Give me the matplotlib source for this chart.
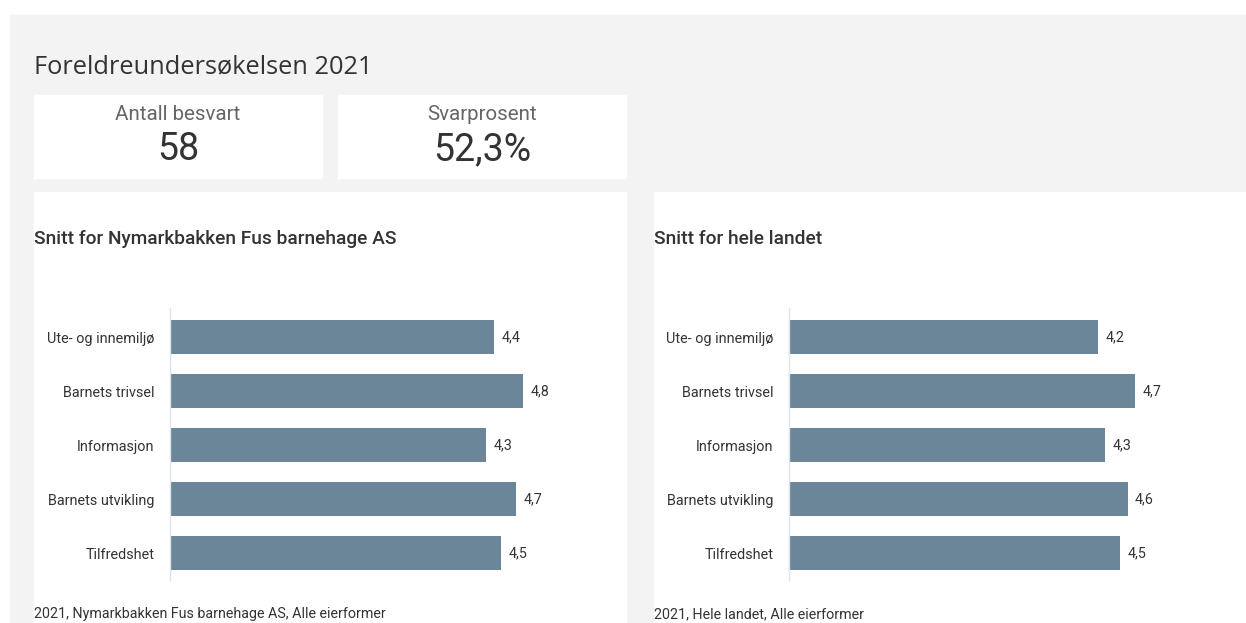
import matplotlib.pyplot as plt
from matplotlib.patches import Rectangle

plt.rcParams["font.family"] = ["Roboto", "DejaVu Sans"]

W, H = 1246, 623

categories = ["Ute- og innemiljø", "Barnets trivsel", "Informasjon",
              "Barnets utvikling", "Tilfredshet"]
local_values = [4.4, 4.8, 4.3, 4.7, 4.5]
national_values = [4.2, 4.7, 4.3, 4.6, 4.5]

kpi_labels = ["Antall besvart", "Svarprosent"]
kpi_values = ["58", "52,3%"]

bar_color = "#6b8599"
text_color = "#333333"


def fx(x):
    return x / W


def fy(y):
    return 1 - y / H


def box(fig, x0, y0, x1, y1, color):
    fig.patches.append(Rectangle((fx(x0), fy(y1)), fx(x1 - x0), (y1 - y0) / H,
                                 transform=fig.transFigure, color=color,
                                 zorder=-1))


fig = plt.figure(figsize=(W / 100, H / 100), dpi=100)
fig.patch.set_facecolor("white")

# background panel and cards
box(fig, 10, 15, 1246, 623, "#f3f3f3")
box(fig, 34, 95, 322, 178, "white")
box(fig, 338, 95, 626, 178, "white")
box(fig, 34, 192, 626, 623, "white")
box(fig, 654, 192, 1246, 623, "white")

fig.text(fx(34), fy(67), "Foreldreundersøkelsen 2021", fontsize=18.3,
         family=["Open Sans", "DejaVu Sans"], color=text_color, va="center")

for i, (lab, val) in enumerate(zip(kpi_labels, kpi_values)):
    cx = 178 + i * 304
    fig.text(fx(cx), fy(114), lab, fontsize=14.8, color="#666666",
             ha="center", va="center")
    fig.text(fx(cx), fy(150), val, fontsize=27, color=text_color,
             ha="center", va="center")

panels = [
    (170, "Snitt for Nymarkbakken Fus barnehage AS", local_values, 34,
     "2021, Nymarkbakken Fus barnehage AS, Alle eierformer"),
    (789, "Snitt for hele landet", national_values, 654,
     "2021, Hele landet, Alle eierformer"),
]

for ax_x, title, values, px, footer in panels:
    fig.text(fx(px), fy(239), title, fontsize=13.8, fontweight="medium",
             color=text_color, va="center")
    fig.text(fx(px), fy(614), footer, fontsize=10.3, color=text_color,
             va="center")

    ax = fig.add_axes([fx(ax_x), fy(580), 430 / W, 272 / H])
    ax.set_facecolor("none")
    ypos = range(len(categories))
    ax.barh(ypos, values, height=0.63, color=bar_color)
    for y, v in zip(ypos, values):
        ax.text(v + 0.1, y, f"{v:.1f}".replace(".", ","), va="center",
                fontsize=10.3, color=text_color)
    ax.set_xlim(0, 430 / 73.6)
    ax.set_ylim(4.5, -0.54)
    ax.set_yticks(list(ypos))
    ax.set_yticklabels(categories, fontsize=10.4, color=text_color)
    ax.tick_params(axis="y", length=0, pad=11)
    ax.set_xticks([])
    for s in ["top", "right", "bottom"]:
        ax.spines[s].set_visible(False)
    ax.spines["left"].set_color("#dde3ea")
    ax.spines["left"].set_linewidth(1)

fig.savefig("out.png", dpi=100)
